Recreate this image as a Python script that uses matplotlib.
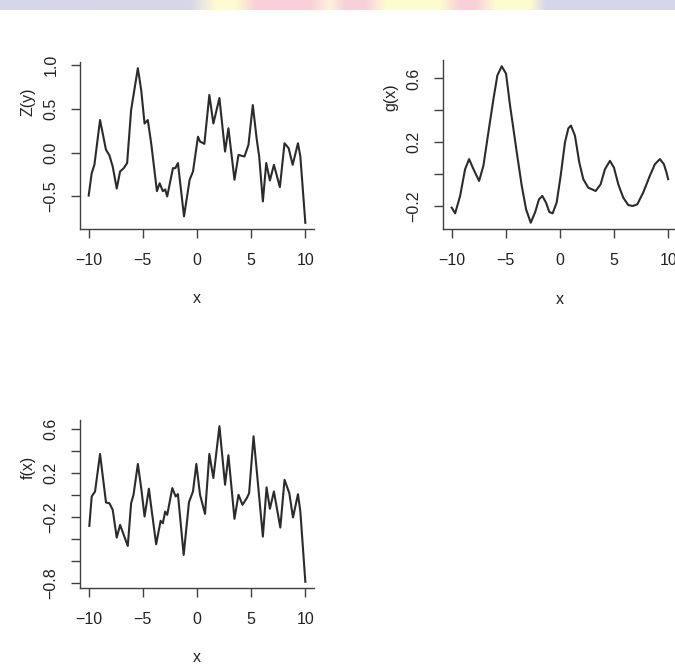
import numpy as np
import matplotlib
matplotlib.use("Agg")
import matplotlib.pyplot as plt
from matplotlib import font_manager

# ---- data -------------------------------------------------------------
z_x = [-10, -9.72, -9.47, -8.95, -8.4, -8.09, -7.78, -7.41, -7.1, -6.76,
       -6.45, -6.08, -5.46, -5.15, -4.84, -4.54, -4.23, -3.7, -3.45, -3.15,
       -2.94, -2.75, -2.22, -2.0, -1.76, -1.2, -0.68, -0.37, 0.09, 0.28,
       0.68, 1.14, 1.51, 2.07, 2.59, 2.9, 3.46, 3.83, 4.14, 4.38, 4.75,
       5.15, 5.52, 5.74, 6.08, 6.39, 6.73, 7.1, 7.65, 8.08, 8.46, 8.83,
       9.32, 9.54, 10.0]
z_y = [-0.49, -0.235, -0.14, 0.37, 0.03, -0.03, -0.16, -0.41, -0.216, -0.178,
       -0.12, 0.485, 0.96, 0.71, 0.33, 0.37, 0.106, -0.44, -0.35, -0.44,
       -0.42, -0.5, -0.178, -0.178, -0.12, -0.727, -0.31, -0.216, 0.18, 0.125,
       0.099, 0.655, 0.33, 0.62, 0.011, 0.276, -0.31, -0.027, -0.038, -0.045, 0.087,
       0.54, 0.144, -0.045, -0.557, -0.12, -0.318, -0.14, -0.394, 0.106, 0.049, -0.14,
       0.106, -0.045, -0.80]

g_x = [-10.0, -9.68, -9.22, -8.76, -8.39, -7.99, -7.47, -7.07, -6.61, -6.14,
       -5.78, -5.38, -4.98, -4.61, -4.30, -3.99, -3.53, -3.13, -2.70, -2.30,
       -1.94, -1.63, -1.29, -0.98, -0.68, -0.31, 0.06, 0.46, 0.77, 1.01,
       1.38, 1.78, 2.15, 2.61, 3.29, 3.75, 4.15, 4.61, 4.98, 5.38,
       5.84, 6.30, 6.70, 7.13, 7.68, 8.29, 8.76, 9.22, 9.59, 9.83, 9.98]
g_y = [-0.21, -0.246, -0.137, 0.031, 0.094, 0.031, -0.043, 0.052, 0.262, 0.472,
       0.619, 0.676, 0.629, 0.43, 0.283, 0.136, -0.074, -0.221, -0.305, -0.240,
       -0.158, -0.137, -0.179, -0.238, -0.246, -0.179, -0.011, 0.199, 0.287, 0.304,
       0.241, 0.073, -0.032, -0.085, -0.106, -0.064, 0.031, 0.083, 0.041, -0.064,
       -0.148, -0.194, -0.2, -0.19, -0.116, -0.011, 0.062, 0.094, 0.062, 0.01, -0.032]

f_x = [-9.94, -9.72, -9.41, -8.95, -8.4, -8.09, -7.78, -7.41, -7.1, -6.76,
       -6.39, -6.08, -5.86, -5.46, -5.15, -4.84, -4.44, -4.17, -3.77, -3.36,
       -3.15, -2.94, -2.75, -2.28, -1.97, -1.76, -1.23, -0.74, -0.37, -0.06,
       0.28, 0.74, 1.14, 1.51, 2.07, 2.59, 2.9, 3.46, 3.83, 4.2, 4.6, 4.81,
       5.22, 5.68, 6.08, 6.42, 6.73, 7.1, 7.69, 8.08, 8.52, 8.86, 9.32, 9.54, 10.0]
f_y = [-0.282, -0.015, 0.03, 0.37, -0.07, -0.076, -0.136, -0.388, -0.273, -0.364,
       -0.464, -0.076, 0.0, 0.279, 0.061, -0.197, 0.055, -0.152, -0.448, -0.236,
       -0.258, -0.152, -0.182, 0.061, -0.015, 0.006, -0.545, -0.067, 0.03, 0.279,
       0.0, -0.173, 0.37, 0.152, 0.621, 0.091, 0.358, -0.218, 0.0, -0.091, -0.03, 0.015,
       0.53, 0.045, -0.379, 0.067, -0.127, 0.03, -0.297, 0.136, 0.015, -0.206, 0.006,
       -0.152, -0.788]

x_ticks = [-10, -5, 0, 5, 10]
z_ticks = [-0.5, 0.0, 0.5, 1.0]
z_labels = ["−0.5", "0.0", "0.5", "1.0"]
g_ticks = [-0.2, 0.0, 0.2, 0.4, 0.6]
g_labels = ["−0.2", "", "0.2", "", "0.6"]
f_ticks = [-0.8, -0.6, -0.4, -0.2, 0.0, 0.2, 0.4, 0.6]
f_labels = ["−0.8", "", "", "−0.2", "", "0.2", "", "0.6"]

# banner colour stops along the top strip (pixel x, colour)
banner_stops = [(0, "#d6d6ea"), (190, "#d8d6e6"), (215, "#fefbd2"), (235, "#fefbd2"),
                (255, "#f9d0d8"), (310, "#f9d0d8"), (330, "#fdf3dc"), (345, "#f8d0da"),
                (365, "#f8d0da"), (385, "#fdfbd0"), (440, "#fdfbd0"), (460, "#f9d0d8"),
                (475, "#f9d0d8"), (495, "#fdfbd0"), (530, "#fdfbd0"), (545, "#d6d6ea"),
                (675, "#d6d6ea")]


def pick_font():
    for name in ["Liberation Sans Narrow", "Liberation Sans", "DejaVu Sans"]:
        try:
            font_manager.findfont(name, fallback_to_default=False)
            return name
        except Exception:
            continue
    return "DejaVu Sans"


plt.rcParams["font.family"] = pick_font()
plt.rcParams["font.size"] = 11.5

W, H = 675, 668
fig = plt.figure(figsize=(W / 100, H / 100), dpi=100)
fig.patch.set_facecolor("white")

# top banner strip
bx = np.arange(W)
cols = np.array([matplotlib.colors.to_rgb(c) for _, c in banner_stops])
pos = [p for p, _ in banner_stops]
strip = np.stack([np.interp(bx, pos, cols[:, k]) for k in range(3)], axis=-1)
bax = fig.add_axes([0, 1 - 10 / H, 1, 10 / H])
bax.imshow(strip[None, :, :], aspect="auto", interpolation="bilinear")
bax.axis("off")

LINE = "#2b2b2b"
AXC = "#404040"
TXT = "#222222"


def panel(rect, xs, ys, yticks, ylabels, ylab, ylab_pos):
    l, t, w, h = rect
    ax = fig.add_axes([l / W, 1 - (t + h) / H, w / W, h / H])
    ax.plot(xs, ys, color=LINE, lw=1.5, solid_joinstyle="round")
    ax.set_xlim(-10.8, 10.8)
    ax.margins(y=0.04)
    for s in ["top", "right"]:
        ax.spines[s].set_visible(False)
    for s in ["left", "bottom"]:
        ax.spines[s].set_color(AXC)
        ax.spines[s].set_linewidth(1.0)
    ax.set_xticks(x_ticks)
    ax.set_xticklabels([str(v).replace("-", "−") for v in x_ticks])
    ax.set_yticks(yticks)
    ax.set_yticklabels(ylabels, rotation=90, va="center")
    ax.tick_params(direction="out", length=6.5, width=1.0, color=AXC,
                   labelcolor=TXT, labelsize=11.5)
    ax.tick_params(axis="x", pad=11)
    ax.tick_params(axis="y", pad=9)
    ax.set_xlabel("x", fontsize=11.5, color=TXT)
    ax.xaxis.set_label_coords(0.5, -0.37)
    ax.set_ylabel(ylab, fontsize=11.5, color=TXT)
    ax.yaxis.set_label_coords(*ylab_pos)
    ax.set_facecolor("none")
    return ax


panel((80, 62, 234, 167), z_x, z_y, z_ticks, z_labels, "Z(y)", (-0.19, 0.76))
panel((443, 60, 234, 169), g_x, g_y, g_ticks, g_labels, "g(x)", (-0.19, 0.78))
panel((80, 420, 234, 168), f_x, f_y, f_ticks, f_labels, "f(x)", (-0.19, 0.72))

fig.savefig("out.png", dpi=100, facecolor="white")
